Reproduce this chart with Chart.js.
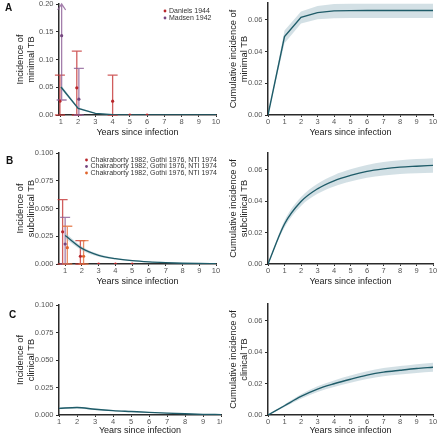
<!DOCTYPE html>
<html>
<head>
<meta charset="utf-8">
<script src="https://cdn.jsdelivr.net/npm/chart.js@4.4.0/dist/chart.umd.min.js"></script>
<style>
body { margin: 0; background: #fff; }
#wrap { position: relative; width: 440px; height: 436px; overflow: hidden; font-family: 'Liberation Sans', Arial, sans-serif; }
canvas { position: absolute; }
.tag { position: absolute; font-weight: bold; font-size: 10px; line-height: 10px; color: #111; }
</style>
</head>
<body>
<div id="wrap">
  <canvas id="aL" width="220" height="145" style="left:0;top:0"></canvas>
  <canvas id="aR" width="220" height="145" style="left:220px;top:0"></canvas>
  <canvas id="bL" width="220" height="145" style="left:0;top:145px"></canvas>
  <canvas id="bR" width="220" height="145" style="left:220px;top:145px"></canvas>
  <canvas id="cL" width="222" height="146" style="left:0;top:290px"></canvas>
  <canvas id="cR" width="220" height="146" style="left:220px;top:290px"></canvas>
  <div class="tag" style="left:5px;top:3px">A</div>
  <div class="tag" style="left:6px;top:156px">B</div>
  <div class="tag" style="left:9px;top:310px">C</div>
</div>
<script>
// axes / ticks
const years = [1, 2, 3, 4, 5, 6, 7, 8, 9, 10];
const yearsCum = [0, 1, 2, 3, 4, 5, 6, 7, 8, 9, 10];
const xLabels1 = ['1', '2', '3', '4', '5', '6', '7', '8', '9', '10'];
const xLabels0 = ['0', '1', '2', '3', '4', '5', '6', '7', '8', '9', '10'];
const incTicksA = [0, 0.05, 0.10, 0.15, 0.20];
const incLabelsA = ['0.00', '0.05', '0.10', '0.15', '0.20'];
const incTicksBC = [0, 0.025, 0.05, 0.075, 0.1];
const incLabelsBC = ['0.000', '0.025', '0.050', '0.075', '0.100'];
const cumTicks = [0, 0.02, 0.04, 0.06];
const cumLabels = ['0.00', '0.02', '0.04', '0.06'];

// model: minimal TB
const minimalInc   = [0.0505, 0.012, 0.003, 0.0007, 0.0002, 0.0001, 0, 0, 0, 0];
const minimalIncLo = [0.047, 0.0102, 0.0024, 0.0005, 0.0001, 0, 0, 0, 0, 0];
const minimalIncHi = [0.054, 0.0138, 0.0036, 0.0009, 0.0003, 0.0001, 0, 0, 0, 0];
const minimalCum   = [0, 0.0495, 0.0617, 0.0646, 0.0657, 0.0659, 0.066, 0.066, 0.066, 0.066, 0.066];
const minimalCumLo = [0, 0.0453, 0.0578, 0.0604, 0.0611, 0.0612, 0.0612, 0.0612, 0.0612, 0.0612, 0.0612];
const minimalCumHi = [0, 0.0533, 0.0653, 0.0688, 0.07, 0.0702, 0.0702, 0.0702, 0.0702, 0.0702, 0.0702];

// model: subclinical TB
const subInc   = [0.0257, 0.014, 0.0078, 0.0048, 0.003, 0.0019, 0.0012, 0.0007, 0.0004, 0.0002];
const subIncLo = [0.0232, 0.0122, 0.0066, 0.004, 0.0024, 0.0015, 0.0009, 0.0005, 0.0003, 0.0001];
const subIncHi = [0.0282, 0.0158, 0.009, 0.0056, 0.0036, 0.0023, 0.0015, 0.0009, 0.0005, 0.0003];
const subCum   = [0, 0.0255, 0.0398, 0.0479, 0.053, 0.0564, 0.059, 0.0606, 0.0617, 0.0623, 0.0628];
const subCumLo = [0, 0.0233, 0.037, 0.0447, 0.0494, 0.0525, 0.0549, 0.0563, 0.0573, 0.0578, 0.0582];
const subCumHi = [0, 0.0277, 0.0426, 0.0511, 0.0566, 0.0603, 0.0631, 0.0649, 0.0661, 0.0668, 0.0674];

// model: clinical TB
const clinInc   = [0.006, 0.0068, 0.0052, 0.004, 0.0032, 0.0024, 0.0017, 0.0011, 0.0006, 0.0003];
const clinIncLo = [0.0052, 0.006, 0.0045, 0.0034, 0.0027, 0.002, 0.0014, 0.0009, 0.0004, 0.0002];
const clinIncHi = [0.0068, 0.0076, 0.0059, 0.0046, 0.0037, 0.0028, 0.002, 0.0013, 0.0008, 0.0004];
const clinCum   = [0, 0.0059, 0.0118, 0.0165, 0.0199, 0.0228, 0.0254, 0.0273, 0.0285, 0.0296, 0.0304];
const clinCumLo = [0, 0.0051, 0.0104, 0.0147, 0.0178, 0.0205, 0.0229, 0.0247, 0.0258, 0.0268, 0.0275];
const clinCumHi = [0, 0.0067, 0.0132, 0.0183, 0.022, 0.0251, 0.0279, 0.0299, 0.0312, 0.0324, 0.0333];

// observed data with intervals
const danielsX  = [0.94, 1.92, 4, 5, 6];
const danielsY  = [0.025, 0.049, 0.025, 0, 0];
const danielsLo = [0, 0, 0, 0, 0];
const danielsHi = [0.072, 0.115, 0.072, 0, 0];
const madsenX   = [1.04, 2.04];
const madsenY   = [0.143, 0.0286];
const madsenLo  = [0.027, 0];
const madsenHi  = [0.2, 0.084];
const madsenArrow = [true, false];

const chakRedX  = [0.85, 1.91, 3, 4, 5];
const chakRedY  = [0.029, 0.007, 0, 0, 0];
const chakRedLo = [0, 0, 0, 0, 0];
const chakRedHi = [0.058, 0.021, 0, 0, 0];
const chakPurX  = [1.0];
const chakPurY  = [0.018];
const chakPurLo = [0];
const chakPurHi = [0.042];
const chakOrX   = [1.13, 2.1];
const chakOrY   = [0.0147, 0.007];
const chakOrLo  = [0, 0];
const chakOrHi  = [0.034, 0.021];

const AXIS = '#2b2b2b';
const TICKC = '#555';
const LINE = '#1f5c69';
const BAND = 'rgba(150,182,192,0.42)';
const FAM = "'Liberation Sans', Arial, sans-serif";
Chart.defaults.font.family = FAM;

const pts = (xs, ys) => xs.map((x, i) => ({ x: x, y: ys[i] }));

const errorBars = {
  id: 'errorBars',
  beforeDatasetsDraw(chart) {
    const { ctx, scales: { x, y } } = chart;
    chart.data.datasets.forEach(ds => {
      if (!ds.errLo) return;
      ctx.save();
      ctx.strokeStyle = ds.errColor;
      ctx.lineWidth = 1.3;
      ds.data.forEach((p, i) => {
        if (ds.errHi[i] === ds.errLo[i]) return;
        const px = x.getPixelForValue(p.x);
        const lo = y.getPixelForValue(ds.errLo[i]);
        const hi = y.getPixelForValue(ds.errHi[i]);
        ctx.beginPath();
        ctx.moveTo(px, lo); ctx.lineTo(px, hi);
        if (ds.errArrow && ds.errArrow[i]) {
          ctx.moveTo(px - 4, hi + 6); ctx.lineTo(px, hi); ctx.lineTo(px + 4, hi + 6);
        } else {
          ctx.moveTo(px - 5, hi); ctx.lineTo(px + 5, hi);
        }
        ctx.moveTo(px - 5, lo); ctx.lineTo(px + 5, lo);
        ctx.stroke();
      });
      ctx.restore();
    });
  }
};

const miniLegend = {
  id: 'miniLegend',
  afterDraw(chart, args, opts) {
    if (!opts || opts.x === undefined) return;
    const ctx = chart.ctx;
    let y = opts.y;
    ctx.save();
    ctx.font = '7px ' + FAM;
    ctx.textBaseline = 'middle';
    chart.data.datasets.forEach(ds => {
      if (!ds.legendLabel) return;
      ctx.fillStyle = ds.pointBackgroundColor;
      ctx.beginPath();
      ctx.arc(opts.x, y, 1.4, 0, Math.PI * 2);
      ctx.fill();
      ctx.fillStyle = '#333';
      ctx.fillText(ds.legendLabel, opts.x + 4, y);
      y += opts.gap;
    });
    ctx.restore();
  }
};

function xScale(min, max, ticks, labels, h, titlePad) {
  return {
    type: 'linear', min: min, max: max,
    afterBuildTicks: s => { s.ticks = ticks.map(v => ({ value: v })); },
    afterFit: s => { s.height = h; s.paddingLeft = 0; s.paddingRight = 0; },
    grid: { drawOnChartArea: false, drawTicks: true, tickLength: 2, color: AXIS },
    border: { display: true, color: AXIS, width: 1.5 },
    ticks: { font: { size: 7.5 }, color: TICKC, padding: 0, maxRotation: 0, autoSkip: false,
             callback: (v, i) => labels[i] },
    title: { display: true, text: 'Years since infection', color: '#222',
             font: { size: 9, lineHeight: 1.2 }, padding: { top: 0, bottom: titlePad } }
  };
}

function yScale(max, ticks, labels, w, title, titlePad) {
  return {
    type: 'linear', min: 0, max: max,
    afterBuildTicks: s => { s.ticks = ticks.map(v => ({ value: v })); },
    afterFit: s => { s.width = w; s.paddingTop = 0; s.paddingBottom = 0; },
    grid: { drawOnChartArea: false, drawTicks: true, tickLength: 3, color: AXIS },
    border: { display: true, color: AXIS, width: 1.5 },
    ticks: { font: { size: 7.5 }, color: TICKC, padding: 2.5, autoSkip: false,
             callback: (v, i) => labels[i] },
    title: { display: true, text: title, color: '#222',
             font: { size: 9.3, lineHeight: 1.15 }, padding: { top: titlePad, bottom: 0 } }
  };
}

function model(xs, mid, lo, hi, smooth) {
  const mode = smooth ? 'monotone' : 'default';
  return [
    { data: pts(xs, mid), borderColor: LINE, borderWidth: 1.4, pointRadius: 0, fill: false,
      cubicInterpolationMode: mode },
    { data: pts(xs, lo), borderWidth: 0, borderColor: 'rgba(0,0,0,0)', pointRadius: 0, fill: false,
      cubicInterpolationMode: mode },
    { data: pts(xs, hi), borderWidth: 0, borderColor: 'rgba(0,0,0,0)', pointRadius: 0, fill: '-1',
      backgroundColor: BAND, cubicInterpolationMode: mode }
  ];
}

function observed(label, xs, ys, lo, hi, color, barColor, arrow) {
  return { legendLabel: label, data: pts(xs, ys), showLine: false, pointRadius: 1.6,
           pointBackgroundColor: color, pointBorderWidth: 0, borderColor: color,
           errLo: lo, errHi: hi, errArrow: arrow, errColor: barColor };
}

function panel(id, cfg) {
  const ctx = document.getElementById(id).getContext('2d');
  return new Chart(ctx, {
    type: 'line',
    data: { datasets: cfg.datasets },
    options: {
      responsive: false, animation: false, devicePixelRatio: 1,
      layout: { padding: cfg.pad },
      plugins: { legend: { display: false }, tooltip: { enabled: false },
                 miniLegend: cfg.legend || {} },
      scales: { x: cfg.x, y: cfg.y }
    },
    plugins: [errorBars, miniLegend]
  });
}

const RED = '#b8262b', RED_BAR = 'rgba(196,52,52,0.8)';
const PUR = '#74467f', PUR_BAR = 'rgba(140,94,150,0.8)';
const ORA = '#e0632a', ORA_BAR = 'rgba(228,112,62,0.8)';

// A
panel('aL', {
  pad: { left: 0, top: 3, right: 0, bottom: 0 },
  legend: { x: 165, y: 11, gap: 7 },
  datasets: [
    observed('Daniels 1944', danielsX, danielsY, danielsLo, danielsHi, RED, RED_BAR),
    observed('Madsen 1942', madsenX, madsenY, madsenLo, madsenHi, PUR, PUR_BAR, madsenArrow)
  ].concat(model(years, minimalInc, minimalIncLo, minimalIncHi, false)),
  x: xScale(0.887, 10, years, xLabels1, 30, 7.5),
  y: yScale(0.2, incTicksA, incLabelsA, 59, ['Incidence of', 'minimal TB'], 15.3)
});
panel('aR', {
  pad: { left: 0, top: 3, right: 7, bottom: 0 },
  datasets: model(yearsCum, minimalCum, minimalCumLo, minimalCumHi, false),
  x: xScale(0, 10, yearsCum, xLabels0, 30, 7.5),
  y: yScale(0.0707, cumTicks, cumLabels, 48, ['Cumulative incidence of', 'minimal TB'], 8.5)
});

// B
const chakLabel = 'Chakraborty 1982, Gothi 1976, NTI 1974';
panel('bL', {
  pad: { left: 0, top: 8, right: 0, bottom: 0 },
  legend: { x: 86.5, y: 15, gap: 6.5 },
  datasets: [
    observed(chakLabel, chakRedX, chakRedY, chakRedLo, chakRedHi, RED, RED_BAR),
    observed(chakLabel, chakPurX, chakPurY, chakPurLo, chakPurHi, PUR, PUR_BAR),
    observed(chakLabel, chakOrX, chakOrY, chakOrLo, chakOrHi, ORA, ORA_BAR)
  ].concat(model(years, subInc, subIncLo, subIncHi, true)),
  x: xScale(0.634, 10, years, xLabels1, 26, 2.6),
  y: yScale(0.1, incTicksBC, incLabelsBC, 59, ['Incidence of', 'subclinical TB'], 15.3)
});
panel('bR', {
  pad: { left: 0, top: 8, right: 7, bottom: 0 },
  datasets: model(yearsCum, subCum, subCumLo, subCumHi, true),
  x: xScale(0, 10, yearsCum, xLabels0, 26, 2.6),
  y: yScale(0.0707, cumTicks, cumLabels, 48, ['Cumulative incidence of', 'subclinical TB'], 8.5)
});

// C
panel('cL', {
  pad: { left: 0, top: 15, right: 1, bottom: 0 },
  datasets: model(years, clinInc, clinIncLo, clinIncHi, true),
  x: xScale(1, 10, years, xLabels1, 21, 0),
  y: yScale(0.1, incTicksBC, incLabelsBC, 59, ['Incidence of', 'clinical TB'], 15.3)
});
panel('cR', {
  pad: { left: 0, top: 14, right: 7, bottom: 0 },
  datasets: model(yearsCum, clinCum, clinCumLo, clinCumHi, true),
  x: xScale(0, 10, yearsCum, xLabels0, 21, 0),
  y: yScale(0.0707, cumTicks, cumLabels, 48, ['Cumulative incidence of', 'clinical TB'], 8.5)
});
</script>
</body>
</html>
